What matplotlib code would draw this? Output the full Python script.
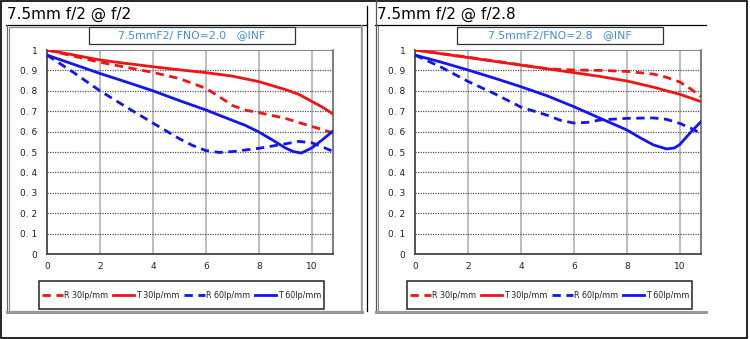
import matplotlib
matplotlib.use("Agg")
import matplotlib.pyplot as plt
from matplotlib.patches import Rectangle
from matplotlib.lines import Line2D

# MTF curves, image height (mm) vs contrast
# --- f/2 ---
f2_r30_x = [0, 1, 2, 3, 4, 5, 6, 6.5, 7, 7.5, 8, 9, 10, 10.4, 10.8]
f2_r30_y = [1.0, 0.97, 0.94, 0.915, 0.89, 0.86, 0.812, 0.772, 0.728, 0.705, 0.693, 0.665, 0.625, 0.61, 0.593]
f2_t30_x = [0, 1, 2, 3, 4, 5, 6, 7, 8, 9, 9.5, 10, 10.4, 10.8]
f2_t30_y = [1.0, 0.976, 0.951, 0.934, 0.918, 0.903, 0.889, 0.872, 0.845, 0.806, 0.783, 0.748, 0.72, 0.686]
f2_r60_x = [0, 1, 2, 3, 4, 5, 5.5, 6, 6.5, 7, 8, 9, 9.5, 10, 10.4, 10.8]
f2_r60_y = [0.975, 0.89, 0.80, 0.72, 0.642, 0.565, 0.532, 0.507, 0.498, 0.502, 0.518, 0.54, 0.552, 0.545, 0.525, 0.503]
f2_t60_x = [0, 1, 2, 3, 4, 5, 6, 7, 7.5, 8, 8.5, 9, 9.3, 9.6, 10, 10.4, 10.8]
f2_t60_y = [0.975, 0.93, 0.885, 0.843, 0.8, 0.752, 0.706, 0.655, 0.63, 0.598, 0.56, 0.52, 0.502, 0.495, 0.52, 0.56, 0.603]

# --- f/2.8 ---
f28_r30_x = [0, 2, 4, 5, 6, 7, 8, 9, 9.5, 10, 10.4, 10.8]
f28_r30_y = [1.0, 0.965, 0.927, 0.908, 0.902, 0.9, 0.895, 0.882, 0.866, 0.843, 0.81, 0.772]
f28_t30_x = [0, 2, 4, 6, 7, 8, 9, 9.5, 10, 10.4, 10.8]
f28_t30_y = [1.0, 0.963, 0.926, 0.889, 0.87, 0.848, 0.818, 0.80, 0.783, 0.765, 0.747]
f28_r60_x = [0, 1, 2, 3, 4, 5, 5.5, 6, 6.5, 7, 8, 9, 9.5, 10, 10.4, 10.8]
f28_r60_y = [0.975, 0.915, 0.846, 0.786, 0.72, 0.68, 0.655, 0.642, 0.645, 0.657, 0.665, 0.667, 0.66, 0.64, 0.618, 0.59]
f28_t60_x = [0, 1, 2, 3, 4, 5, 6, 7, 8, 8.5, 9, 9.5, 9.8, 10, 10.4, 10.8]
f28_t60_y = [0.975, 0.94, 0.902, 0.862, 0.82, 0.775, 0.722, 0.665, 0.608, 0.57, 0.535, 0.515, 0.52, 0.537, 0.595, 0.649]

x_ticks = [0, 2, 4, 6, 8, 10]
y_ticks = [0, 0.1, 0.2, 0.3, 0.4, 0.5, 0.6, 0.7, 0.8, 0.9, 1.0]
y_labels = ["0", "0. 1", "0. 2", "0. 3", "0. 4", "0. 5", "0. 6", "0. 7", "0. 8", "0. 9", "1"]
legend_labels = ["R 30lp/mm", "T 30lp/mm", "R 60lp/mm", "T 60lp/mm"]

titles = ["7.5mm f/2 @ f/2", "7.5mm f/2 @ f/2.8"]
subtitles = ["7.5mmF2/ FNO=2.0   @INF", "7.5mmF2/FNO=2.8   @INF"]

RED = "#f01414"
BLUE = "#1414f0"
W, H = 750, 339

fig = plt.figure(figsize=(W / 100, H / 100), dpi=100)
fig.patch.set_facecolor("white")

# background layer in pixel coordinates for frames and boxes
bg = fig.add_axes([0, 0, 1, 1])
bg.set_xlim(0, W)
bg.set_ylim(H, 0)
bg.axis("off")


def px_axes(x0, y0, x1, y1):
    return fig.add_axes([x0 / W, 1 - y1 / H, (x1 - x0) / W, (y1 - y0) / H])


def hline(x0, x1, y, **kw):
    bg.add_line(Line2D([x0, x1], [y, y], **kw))


def vline(x, y0, y1, **kw):
    bg.add_line(Line2D([x, x], [y0, y1], **kw))


# outer frame
bg.add_patch(Rectangle((0.8, 0.8), 746.5, 337, fill=False, ec="black", lw=1.2))

# left panel frame
hline(6, 367, 25, color="black", lw=0.9)
vline(367, 6, 311, color="black", lw=0.9)
vline(6.5, 25, 311, color="#666666", lw=0.8)
bg.add_patch(Rectangle((8.5, 26.5), 352, 284, fill=False, ec="#8a8a8a", lw=0.9))
hline(7, 362, 311.5, color="#999999", lw=2.2)
vline(361.5, 26, 312, color="#999999", lw=1.2)

# right panel frame
hline(375, 706, 25, color="black", lw=0.9)
vline(375.5, 0, 311, color="#555555", lw=0.9)
vline(377.5, 26, 311, color="#8a8a8a", lw=0.8)
hline(376, 706, 311.5, color="#999999", lw=2.2)

panels = [
    dict(left=47, title_x=7, sub=(89, 295), leg=(39, 324),
         r30=(f2_r30_x, f2_r30_y), t30=(f2_t30_x, f2_t30_y),
         r60=(f2_r60_x, f2_r60_y), t60=(f2_t60_x, f2_t60_y)),
    dict(left=415, title_x=377, sub=(457, 663), leg=(407, 692),
         r30=(f28_r30_x, f28_r30_y), t30=(f28_t30_x, f28_t30_y),
         r60=(f28_r60_x, f28_r60_y), t60=(f28_t60_x, f28_t60_y)),
]

for i, p in enumerate(panels):
    # panel heading
    bg.text(p["title_x"], 14, titles[i], fontsize=11, va="center", ha="left",
            color="black", family="DejaVu Sans")

    # caption box above the plot
    sx0, sx1 = p["sub"]
    bg.add_patch(Rectangle((sx0, 27), sx1 - sx0, 17, fc="white", ec="#333333", lw=0.9, zorder=3))
    bg.text((sx0 + sx1) / 2, 35.5, subtitles[i], fontsize=7.8, ha="center", va="center",
            color="#3c8fd6", zorder=4)

    ax = px_axes(p["left"], 50, p["left"] + 286, 254)
    ax.set_xlim(0, 10.8)
    ax.set_ylim(0, 1)
    ax.set_facecolor("white")

    # grid: solid light verticals, dotted horizontals
    for xv in x_ticks[1:]:
        ax.axvline(xv, color="#b8b8b8", lw=1.3, zorder=1)
    for yv in y_ticks[1:-1]:
        ax.axhline(yv, color="#555555", lw=0.9, ls=(0, (1, 1)), zorder=1)

    ax.plot(*p["r30"], color=RED, lw=2, dashes=(3, 2), zorder=3)
    ax.plot(*p["t30"], color=RED, lw=2, zorder=3)
    ax.plot(*p["r60"], color=BLUE, lw=2, dashes=(3, 2), zorder=3)
    ax.plot(*p["t60"], color=BLUE, lw=2, zorder=3)

    ax.set_xticks(x_ticks)
    ax.set_xticklabels([str(v) for v in x_ticks])
    ax.set_yticks(y_ticks)
    ax.set_yticklabels(y_labels)
    ax.tick_params(length=0, labelsize=6.5, labelcolor="#222222")
    ax.tick_params(axis="x", pad=6)
    ax.tick_params(axis="y", pad=7)

    ax.spines["left"].set_color("#444444")
    ax.spines["bottom"].set_color("#444444")
    ax.spines["left"].set_linewidth(1.3)
    ax.spines["bottom"].set_linewidth(1.3)
    ax.spines["top"].set_color("#888888")
    ax.spines["right"].set_color("#666666")
    ax.spines["right"].set_linewidth(1.2)

    # legend box below the plot
    lx0, lx1 = p["leg"]
    bg.add_patch(Rectangle((lx0, 281), lx1 - lx0, 28, fc="white", ec="#222222", lw=1.1, zorder=3))
    handles = [
        Line2D([], [], color=RED, lw=2, dashes=(3, 2)),
        Line2D([], [], color=RED, lw=2),
        Line2D([], [], color=BLUE, lw=2, dashes=(3, 2)),
        Line2D([], [], color=BLUE, lw=2),
    ]
    leg = fig.legend(handles, legend_labels, loc="center", ncol=4,
                     bbox_to_anchor=((lx0 + lx1) / 2 / W, 1 - 295 / H),
                     frameon=False, fontsize=5.8, handlelength=2.6, handletextpad=0.2,
                     columnspacing=0.6, borderpad=0)
    for t in leg.get_texts():
        t.set_color("#222222")

fig.savefig("out.png", dpi=100, facecolor="white")
